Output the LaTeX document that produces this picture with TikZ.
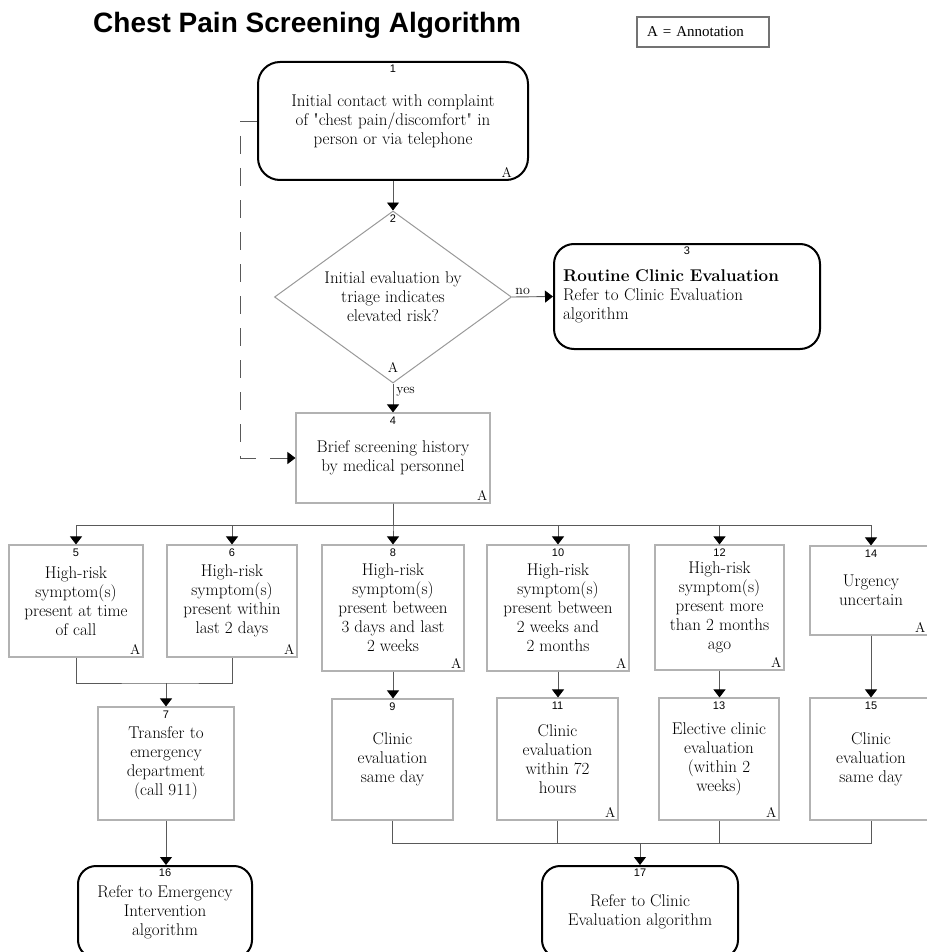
\documentclass[tikz,border=0pt]{standalone}
\usepackage{fontspec}
\usetikzlibrary{arrows.meta, shapes.geometric}
\newfontfamily\titlefont{Liberation Sans}
\newfontfamily\sansnr{Liberation Sans}
\newfontfamily\legendfont{Liberation Serif}
\newcommand\bodyfont{\fontsize{17}{19}\selectfont}
\newcommand\nrfont{\sansnr\fontsize{11}{12}\selectfont}
\newcommand\annfont{\fontsize{14}{15}\selectfont}

\begin{document}
\begin{tikzpicture}[x=1pt, y=-1pt,
  box/.style={draw=black!30, line width=1.1pt, align=center, font=\bodyfont, inner sep=0pt},
  term/.style={draw=black, line width=2pt, rounded corners=20pt, align=center, font=\bodyfont, inner sep=0pt},
  nr/.style={anchor=north, inner sep=4pt, font=\nrfont},
  ann/.style={anchor=south east, inner sep=3pt, font=\annfont},
  link/.style={draw=black!65, line width=0.9pt},
  arr/.style={link, -{Triangle[width=12pt, length=8pt, color=black]}}]
\useasboundingbox (0,0) rectangle (926,952);
% Heading
\node[font=\titlefont\bfseries\fontsize{28}{32}\selectfont, anchor=base west, inner sep=0pt] (title) at (93,33) {Chest Pain Screening Algorithm};
\node[draw=black!55, line width=2.5pt, text width=112pt, inner xsep=10pt, inner ysep=0pt, minimum height=30, align=left,
      font=\legendfont\fontsize{15}{17}\selectfont] (key) at (703,32) {A = Annotation};
% Top part
\node[term, minimum width=270, minimum height=118, rounded corners=22pt,
      label={[nr]north:1}, label={[ann, xshift=-14pt]south east:A}] (b1) at (393,121)
      {Initial contact with complaint\\of \textquotedbl chest pain/discomfort\textquotedbl{} in\\person or via telephone};
\node[diamond, draw=black!40, line width=1pt, aspect=1.38, minimum width=237, minimum height=172, inner sep=0pt,
      align=center, font=\bodyfont, label={[nr]north:2}, label={[ann, anchor=south, yshift=8pt]south:A}] (b2) at (393,297)
      {Initial evaluation by\\triage indicates\\elevated risk?};
\node[term, text width=248pt, inner xsep=9pt, align=left, minimum height=105, label={[nr]north:3}] (b3) at (687,296.5)
      {\textbf{Routine Clinic Evaluation}\\Refer to Clinic Evaluation\\algorithm};
\node[box, minimum width=194, minimum height=90, label={[nr]north:4}, label={[ann]south east:A}] (b4) at (393,458)
      {Brief screening history\\by medical personnel};
% Symptom row
\node[box, minimum width=134, minimum height=112, label={[nr]north:5}, label={[ann]south east:A}] (b5) at (76,601)
      {High-risk\\symptom(s)\\present at time\\of call};
\node[box, minimum width=130, minimum height=112, label={[nr]north:6}, label={[ann]south east:A}] (b6) at (232,601)
      {High-risk\\symptom(s)\\present within\\last 2 days};
\node[box, minimum width=142, minimum height=126, label={[nr]north:8}, label={[ann]south east:A}] (b8) at (393,608)
      {High-risk\\symptom(s)\\present between\\3 days and last\\2 weeks};
\node[box, minimum width=142, minimum height=126, label={[nr]north:10}, label={[ann]south east:A}] (b10) at (558,608)
      {High-risk\\symptom(s)\\present between\\2 weeks and\\2 months};
\node[box, minimum width=129, minimum height=125, label={[nr]north:12}, label={[ann]south east:A}] (b12) at (719.5,607.5)
      {High-risk\\symptom(s)\\present more\\than 2 months\\ago};
\node[box, minimum width=122, minimum height=89, label={[nr]north:14}, label={[ann, xshift=-4pt]south east:A}] (b14) at (871,590.5)
      {Urgency\\uncertain};
% Action row
\node[box, minimum width=136, minimum height=113, label={[nr]north:7}] (b7) at (166,763.5)
      {Transfer to\\emergency\\department\\(call 911)};
\node[box, minimum width=121, minimum height=121, label={[nr]north:9}] (b9) at (392.5,759.5)
      {Clinic\\evaluation\\same day};
\node[box, minimum width=121, minimum height=122, label={[nr]north:11}, label={[ann]south east:A}] (b11) at (557.5,759)
      {Clinic\\evaluation\\within 72\\hours};
\node[box, minimum width=120, minimum height=122, label={[nr]north:13}, label={[ann]south east:A}] (b13) at (719,759)
      {Elective clinic\\evaluation\\(within 2\\weeks)};
\node[box, minimum width=122, minimum height=122, label={[nr]north:15}] (b15) at (871,759)
      {Clinic\\evaluation\\same day};
% End points
\node[term, minimum width=174, minimum height=92, rounded corners=18pt, label={[nr]north:16}] (b16) at (165,912)
      {Refer to Emergency\\Intervention\\algorithm};
\node[term, minimum width=196, minimum height=92, rounded corners=18pt, label={[nr]north:17}] (b17) at (640,912)
      {Refer to Clinic\\Evaluation algorithm};
% Joins
\coordinate (side) at (240,121);
\coordinate (j7) at (166,683);
\coordinate (j17) at (640,843);
% Connectors
\draw[arr] (b1.south) -- (b2.north);
\draw[arr] (b2.east) -- node[above, pos=0.26, font=\annfont, inner sep=2pt] {no} (b3.west);
\draw[arr] (b2.south) -- node[right, pos=0.3, font=\annfont, inner sep=3pt] {yes} (b4.north);
\draw[link, dash pattern=on 18pt off 14pt, -{Triangle[width=12pt, length=8pt, color=black]}] (b1.west) -- (side) |- (b4.west);
\foreach \b in {b5,b6,b8,b10,b12,b14}
  \draw[arr] (b4.south) -- ++(0,22) -| (\b.north);
\foreach \a/\b in {b8/b9,b10/b11,b12/b13,b14/b15}
  \draw[arr] (\a.south) -- (\a.south |- \b.north);
\draw[link] (b5.south) |- (j7) -| (b6.south);
\draw[arr] (j7) -- (b7.north);
\draw[arr] (b7.south) -- (b7.south |- b16.north);
\draw[link] (b9.south) |- (j17) -| (b15.south);
\foreach \b in {b11,b13}
  \draw[link] (\b.south) -- (\b.south |- j17);
\draw[arr] (j17) -- (b17.north);
\end{tikzpicture}
\end{document}
